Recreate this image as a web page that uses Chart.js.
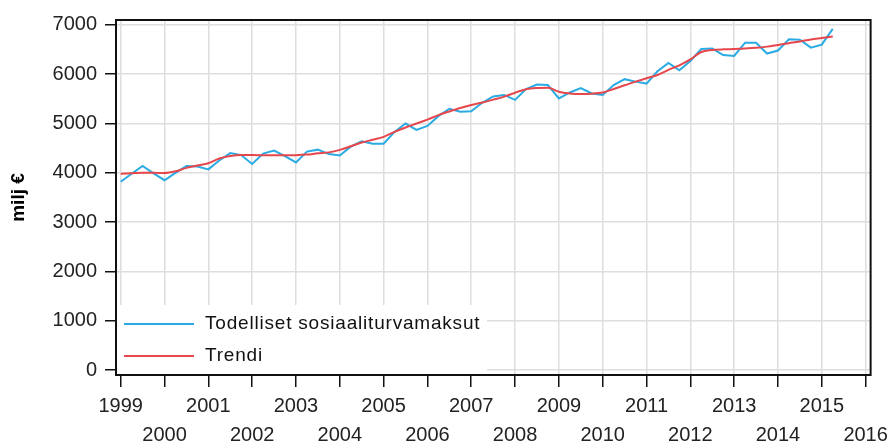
<!DOCTYPE html>
<html>
<head>
<meta charset="utf-8">
<script src="https://cdn.jsdelivr.net/npm/chart.js@4.4.1/dist/chart.umd.min.js"></script>
<style>
  html, body { margin: 0; padding: 0; background: #fff; }
  #wrap { width: 893px; height: 446px; }
</style>
</head>
<body>
<div id="wrap"><canvas id="myChart" width="893" height="446"></canvas></div>
<script>
// quarterly figures, 1999Q1 - 2015Q2 (milj €)
const firstYear = 1999;
const yearLabels = ['1999', '2000', '2001', '2002', '2003', '2004', '2005', '2006', '2007',
  '2008', '2009', '2010', '2011', '2012', '2013', '2014', '2015', '2016'];
const yTicks = [0, 1000, 2000, 3000, 4000, 5000, 6000, 7000];

const actual = [
  3820, 3980, 4140, 3990,
  3850, 4000, 4140, 4130,
  4070, 4250, 4400, 4360,
  4180, 4390, 4450, 4340,
  4210, 4430, 4470, 4380,
  4350, 4530, 4640, 4590,
  4590, 4830, 5000, 4870,
  4950, 5150, 5300, 5240,
  5250, 5420, 5550, 5580,
  5480, 5700, 5790, 5780,
  5510, 5630, 5720, 5610,
  5580, 5780, 5900, 5850,
  5810, 6060, 6230, 6080,
  6270, 6510, 6520, 6390,
  6370, 6640, 6640, 6420,
  6480, 6710, 6700, 6540,
  6600, 6920
];

const trend = [
  3980, 3990, 4000, 4000,
  3995, 4030, 4100, 4150,
  4195, 4290, 4340, 4360,
  4360, 4358, 4356, 4356,
  4358, 4370, 4395, 4415,
  4465, 4540, 4615, 4670,
  4730, 4830, 4920, 5000,
  5080, 5170, 5245, 5315,
  5375, 5425, 5485, 5545,
  5625, 5695, 5720, 5725,
  5645, 5610, 5598, 5605,
  5630, 5700, 5775, 5850,
  5920, 5985, 6090, 6180,
  6300, 6450, 6490, 6505,
  6510, 6520, 6535, 6560,
  6595, 6630, 6665, 6705,
  6735, 6765
];

const seriesNames = ['Todelliset sosiaaliturvamaksut', 'Trendi'];
const blue = '#2aabe3';
const red = '#e6474c';
const fontFamily = "'Liberation Sans', Arial, sans-serif";

// quarter index -> decimal year
function toPoints(values) {
  return values.map((v, i) => ({ x: firstYear + i / 4, y: v }));
}

// black frame around the plot area
const framePlugin = {
  id: 'frame',
  afterDatasetsDraw(chart) {
    const a = chart.chartArea;
    const c = chart.ctx;
    c.save();
    c.strokeStyle = '#111';
    c.lineWidth = 2;
    c.strokeRect(a.left, a.top, a.right - a.left, a.bottom - a.top);
    c.restore();
  }
};

// legend sits inside the plot, bottom-left, on a white box
const insideLegend = {
  id: 'insideLegend',
  beforeDatasetsDraw(chart) {
    const a = chart.chartArea;
    const c = chart.ctx;
    c.save();
    c.fillStyle = '#fff';
    c.fillRect(a.left, 305, 487 - a.left, a.bottom - 305);
    const rows = [324, 356];
    chart.data.datasets.forEach((ds, i) => {
      const y = rows[i];
      c.strokeStyle = ds.borderColor;
      c.lineWidth = 2;
      c.beginPath();
      c.moveTo(124, y);
      c.lineTo(194, y);
      c.stroke();
      c.fillStyle = '#111';
      c.font = '19px ' + fontFamily;
      c.letterSpacing = '0.8px';
      c.textBaseline = 'middle';
      c.textAlign = 'left';
      c.fillText(ds.label, 205, y);
    });
    c.restore();
  }
};

const ctx = document.getElementById('myChart');
new Chart(ctx, {
  type: 'line',
  data: {
    datasets: [{
      label: seriesNames[0],
      data: toPoints(actual),
      borderColor: blue,
      borderWidth: 2,
      pointRadius: 0,
      tension: 0,
      order: 2
    }, {
      label: seriesNames[1],
      data: toPoints(trend),
      borderColor: red,
      borderWidth: 2,
      pointRadius: 0,
      tension: 0.4,
      cubicInterpolationMode: 'monotone',
      order: 1
    }]
  },
  options: {
    responsive: false,
    animation: false,
    layout: {
      padding: { top: 20, right: 20, left: 0, bottom: 0 }
    },
    plugins: {
      legend: { display: false },
      tooltip: { enabled: false }
    },
    scales: {
      x: {
        type: 'linear',
        min: 1998.893,
        max: 2016.114,
        afterBuildTicks: s => { s.ticks = yearLabels.map(y => ({ value: Number(y) })); },
        afterFit: s => { s.height = 71; },
        border: { display: false },
        grid: {
          color: '#dedede',
          lineWidth: 1.5,
          tickColor: '#111',
          tickLength: 12,
          tickWidth: 1.5
        },
        ticks: {
          autoSkip: false,
          maxRotation: 0,
          padding: 5,
          color: '#222',
          font: { family: fontFamily, size: 20, lineHeight: 1.45 },
          callback: (value, index) => index % 2 === 0 ? [yearLabels[index], ''] : ['', yearLabels[index]]
        }
      },
      y: {
        min: -101,
        max: 7100,
        afterBuildTicks: s => { s.ticks = yTicks.map(v => ({ value: v })); },
        afterFit: s => { s.width = 116; },
        border: { display: false },
        grid: {
          color: '#dedede',
          lineWidth: 1.5,
          tickColor: '#111',
          tickLength: 11,
          tickWidth: 1.5
        },
        ticks: {
          padding: 8,
          color: '#222',
          font: { family: fontFamily, size: 20 },
          callback: value => String(value)
        },
        title: {
          display: true,
          text: 'milj €',
          color: '#000',
          padding: { top: 7, bottom: 0 },
          font: { family: fontFamily, size: 19, weight: 'bold' }
        }
      }
    }
  },
  plugins: [framePlugin, insideLegend]
});
</script>
</body>
</html>
